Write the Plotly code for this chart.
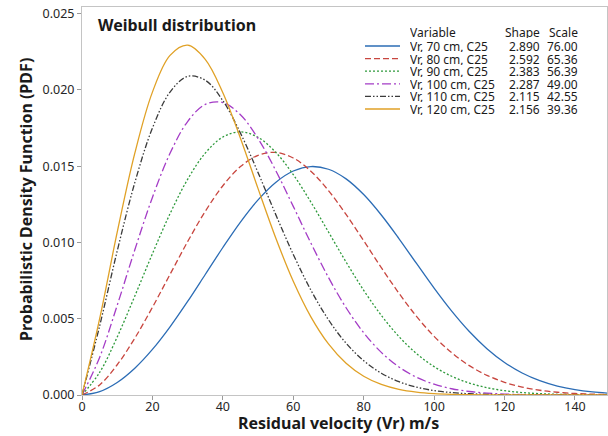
import plotly.graph_objects as go

# ---------------- data ----------------
x_vals = list(range(0, 155, 5))

series_names = ["Vr, 70 cm, C25", "Vr, 80 cm, C25", "Vr, 90 cm, C25",
                "Vr, 100 cm, C25", "Vr, 110 cm, C25", "Vr, 120 cm, C25"]
shape_labels = ["2.890", "2.592", "2.383", "2.287", "2.115", "2.156"]
scale_labels = ["76.00", "65.36", "56.39", "49.00", "42.55", "39.36"]

pdf_70 = [0, 0.000222, 0.000821, 0.001755, 0.002986, 0.004467, 0.006131, 0.007897,
          0.009667, 0.011335, 0.012791, 0.013934, 0.014680, 0.014974, 0.014796, 0.014166,
          0.013137, 0.011798, 0.010255, 0.008621, 0.007004, 0.005497, 0.004162, 0.003037,
          0.002134, 0.001442, 0.000937, 0.000584, 0.000349, 0.000200, 0.000110]
pdf_80 = [0, 0.000662, 0.001982, 0.003725, 0.005747, 0.007905, 0.010051, 0.012035,
          0.013715, 0.014969, 0.015712, 0.015898, 0.015533, 0.014668, 0.013395, 0.011832,
          0.010109, 0.008353, 0.006674, 0.005152, 0.003843, 0.002768, 0.001923, 0.001289,
          0.000833, 0.000519, 0.000311, 0.000179, 0.000099, 0.000053, 0.000027]
pdf_90 = [0, 0.001477, 0.003802, 0.006487, 0.009260, 0.011881, 0.014137, 0.015852,
          0.016907, 0.017247, 0.016889, 0.015911, 0.014444, 0.012646, 0.010685, 0.008715,
          0.006864, 0.005220, 0.003832, 0.002716, 0.001858, 0.001227, 0.000781, 0.000480,
          0.000284, 0.000162, 0.000089, 0.000047, 0.000024, 0.000012, 0.000006]
pdf_100 = [0, 0.002461, 0.005879, 0.009516, 0.012950, 0.015840, 0.017924, 0.019047,
           0.019169, 0.018367, 0.016808, 0.014724, 0.012363, 0.009959, 0.007702, 0.005719,
           0.004079, 0.002794, 0.001838, 0.001161, 0.000705, 0.000410, 0.000229, 0.000123,
           0.000063, 0.000031, 0.000015, 0.000007, 0.000003, 0.000001, 0.000000]
pdf_110 = [0, 0.004517, 0.009438, 0.013920, 0.017493, 0.019855, 0.020883, 0.020630,
           0.019293, 0.017165, 0.014575, 0.011839, 0.009214, 0.006878, 0.004930, 0.003394,
           0.002246, 0.001428, 0.000874, 0.000514, 0.000291, 0.000158, 0.000083, 0.000042,
           0.000020, 0.000009, 0.000004, 0.000002, 0.000001, 0.000000, 0.000000]
pdf_120 = [0, 0.004985, 0.010668, 0.015849, 0.019852, 0.022259, 0.022931, 0.022002,
           0.019816, 0.016833, 0.013528, 0.010307, 0.007455, 0.005124, 0.003349, 0.002082,
           0.001232, 0.000694, 0.000372, 0.000190, 0.000092, 0.000043, 0.000019, 0.000008,
           0.000003, 0.000001, 0, 0, 0, 0, 0]

x_ticks = [0, 20, 40, 60, 80, 100, 120, 140]
y_ticks = [0.000, 0.005, 0.010, 0.015, 0.020, 0.025]

x_title = "Residual velocity (Vr) m/s"
y_title = "Probabilistic Density Function (PDF)"
chart_title = "Weibull distribution"

# ---------------- styling ----------------
colors = ["#2b6cb5", "#c8463f", "#2f9a3c", "#a43cc6", "#3a3a3a", "#e0a126"]
dashes = ["solid", "6px,3px", "2px,2px", "9px,3px,2px,3px",
          "6px,2px,1.5px,2px,1.5px,2px", "solid"]
FONT = "Noto Sans"
TXT = "#1a1a1a"

all_series = [pdf_70, pdf_80, pdf_90, pdf_100, pdf_110, pdf_120]

fig = go.Figure()
for name, ys, c, d in zip(series_names, all_series, colors, dashes):
    fig.add_trace(go.Scatter(
        x=x_vals, y=ys, mode="lines", name=name, showlegend=False,
        line=dict(color=c, width=1.3, dash=d, shape="spline", smoothing=1.0),
        hoverinfo="x+y+name"))

L, R, T, B = 82, 1, 7, 41
W, H = 608, 436
pw, ph = W - L - R, H - T - B


def px(xp):
    return (xp - L) / pw


def py(yp):
    return (H - B - yp) / ph


def note(text, x, y, xanchor="left", size=12, angle=0, box_h=None):
    d = dict(text=text, x=px(x), y=py(y), xref="paper", yref="paper",
             xanchor=xanchor, yanchor="middle", showarrow=False, textangle=angle,
             font=dict(family=FONT, size=size, color=TXT))
    if box_h is not None:
        d["height"] = box_h
        d["borderpad"] = 0
        d["valign"] = "middle"
    return d


ROW_H = 12
annotations = [
    note("<b>" + chart_title + "</b>", 96, 25, size=16),
    note("<b>" + x_title + "</b>", 338, 423, xanchor="center", size=16),
    note("<b>" + y_title + "</b>", 26, 199, xanchor="center", size=16, angle=-90),
    note("Variable", 409, 32, box_h=ROW_H),
    note("Shape", 541, 32, xanchor="right", box_h=ROW_H),
    note("Scale", 579, 32, xanchor="right", box_h=ROW_H),
]
shapes = []
for i, (name, sh, sc, c, d) in enumerate(zip(series_names, shape_labels, scale_labels, colors, dashes)):
    yy = 46 + 12.6 * i
    annotations.append(note(name, 409, yy, box_h=ROW_H))
    annotations.append(note(sh, 541, yy, xanchor="right", box_h=ROW_H))
    annotations.append(note(sc, 579, yy, xanchor="right", box_h=ROW_H))
    shapes.append(dict(type="line", xref="paper", yref="paper",
                       x0=px(365), x1=px(400), y0=py(yy), y1=py(yy),
                       line=dict(color=c, width=1.3, dash=d)))

axis_common = dict(ticks="outside", ticklen=4, tickcolor="#9a9a9a", showline=True,
                   linecolor="#c4c4c4", linewidth=1, mirror=True, showgrid=False,
                   zeroline=False, automargin=False,
                   tickfont=dict(family=FONT, size=12.5, color="#262626"))

fig.update_layout(
    width=W, height=H,
    margin=dict(l=L, r=R, t=T, b=B, autoexpand=False),
    paper_bgcolor="white", plot_bgcolor="white",
    font=dict(family=FONT, color="#222"),
    annotations=annotations, shapes=shapes,
    xaxis=dict(range=[0, 149.1], tickvals=x_ticks, ticklabelstandoff=-4, **axis_common),
    yaxis=dict(range=[0, 0.02543], tickvals=y_ticks, tickformat=".3f", **axis_common),
)

fig.write_html("out.html", config={"displayModeBar": False},
               post_script="document.body.style.margin='0';document.body.style.overflow='hidden';")
